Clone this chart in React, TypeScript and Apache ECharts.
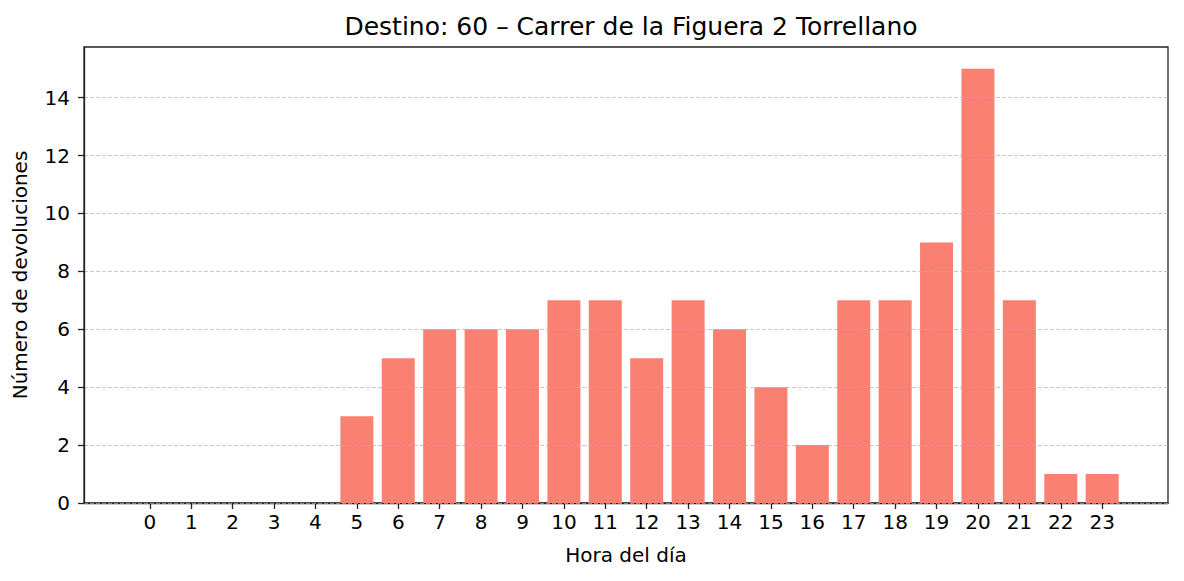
import React, { useEffect, useRef } from "react";
import * as echarts from "echarts";

const hours = [0,1,2,3,4,5,6,7,8,9,10,11,12,13,14,15,16,17,18,19,20,21,22,23];
const counts = [0,0,0,0,0,3,5,6,6,6,7,7,5,7,6,4,2,7,7,9,15,7,1,1];
const yTicks = [0,2,4,6,8,10,12,14];
const title = "Destino: 60 – Carrer de la Figuera 2 Torrellano";
const xName = "Hora del día";
const yName = "Número de devoluciones";

const FONT = "DejaVu Sans";

export default function App() {
  const ref = useRef<HTMLDivElement>(null);
  useEffect(() => {
    const chart = echarts.init(ref.current!, null, { renderer: "svg" });
    const xMin = -0.4 - 0.05 * 23.8;
    const xMax = 23.4 + 0.05 * 23.8;
    const yMax = 15 * 1.05;
    chart.setOption({
      animation: false,
      textStyle: { fontFamily: FONT },
      title: {
        text: title,
        left: 626,
        textAlign: "center",
        top: 9,
        textStyle: { fontFamily: FONT, fontSize: 25, fontWeight: "normal", color: "#000" },
      },
      grid: {
        left: 84, right: 1184 - 1168, top: 47, bottom: 581 - 503,
        outerBoundsMode: "none",
        containLabel: false,
        show: true, borderColor: "#222", borderWidth: 1.3, backgroundColor: "transparent",
      },
      xAxis: {
        type: "value",
        min: xMin,
        max: xMax,
        name: xName,
        nameLocation: "middle",
        nameGap: 42,
        nameTextStyle: { fontFamily: FONT, fontSize: 20, color: "#000" },
        axisLine: { show: true, onZero: false, lineStyle: { color: "#222", width: 1.3 } },
        axisTick: { show: true, length: 6, lineStyle: { color: "#222", width: 1.3 }, customValues: hours },
        axisLabel: { fontFamily: FONT, fontSize: 20, color: "#000", margin: 9, customValues: hours },
        splitLine: { show: false },
      },
      yAxis: {
        type: "value",
        min: 0,
        max: yMax,
        interval: 2,
        z: 5,
        name: yName,
        nameLocation: "middle",
        nameGap: 54,
        nameTextStyle: { fontFamily: FONT, fontSize: 20, color: "#000" },
        axisLine: { show: true, onZero: false, lineStyle: { color: "#222", width: 1.3 } },
        axisTick: { show: true, length: 6, lineStyle: { color: "#222", width: 1.3 }, customValues: yTicks },
        axisLabel: { fontFamily: FONT, fontSize: 20, color: "#000", margin: 14, customValues: yTicks },
        splitLine: { show: true, lineStyle: { color: "#b0b0b0", width: 0.7, type: [4, 2] } },
      },
      series: [
        {
          type: "bar",
          data: hours.map((h, i) => [h, counts[i]]),
          barWidth: 33,
          itemStyle: { color: "#FA8072" },
        },
      ],
    });
    return () => chart.dispose();
  }, []);
  return <div ref={ref} style={{ width: 1184, height: 581, position: "absolute", left: 0, top: 0 }} />;
}
